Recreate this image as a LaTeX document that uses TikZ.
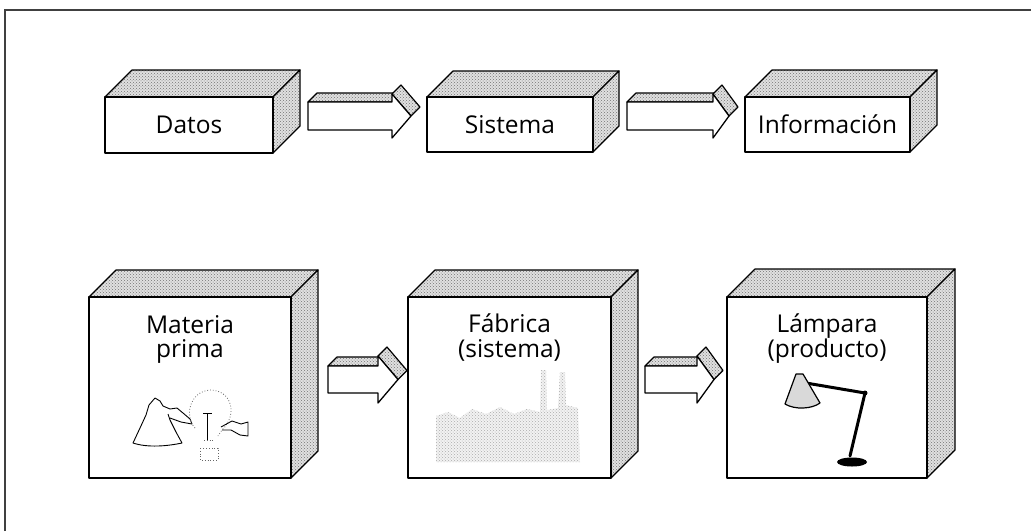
\documentclass[tikz,border=0pt]{standalone}
\usepackage{fontspec}
\newfontfamily\lblfont{Open Sans}
\usetikzlibrary{patterns}
\tikzset{
  stipple/.style={draw=black, line width=1.2pt, line join=round,
    preaction={fill=gray!24}, pattern=crosshatch dots, pattern color=black!55},
  frontface/.style={draw=black, line width=1.3pt, line join=round, fill=white},
  lbl/.style={font=\lblfont\fontsize{24.5}{25}\selectfont, inner sep=0pt, anchor=base},
  frameline/.style={draw=black!75, line width=1.6pt},
  sketch/.style={draw=black, line width=0.9pt, line join=round},
  dotsketch/.style={draw=black!60, line width=0.8pt, dotted},
  speckle/.style={preaction={fill=gray!10}, pattern=crosshatch dots, pattern color=gray!65},
}
% front-left-top x1,y1 ; front-right-bottom x2,y2 ; depth d
\newcommand\cubebox[5]{%
  \draw[stipple] (#1,#2) -- (#3,#2) -- ({#3+#5},{#2-#5}) -- ({#1+#5},{#2-#5}) -- cycle;
  \draw[stipple] (#3,#2) -- ({#3+#5},{#2-#5}) -- ({#3+#5},{#4-#5}) -- (#3,#4) -- cycle;
  \draw[frontface] (#1,#2) rectangle (#3,#4);
}
% x0, xhead, ytop, ybottom, barb, xtip, depth
\newcommand\blockarrow[7]{%
  \pgfmathsetmacro\ymid{(#3+#4)/2}%
  \draw[stipple] (#1,#3) -- (#2,#3) -- ({#2+#7},{#3-#7}) -- ({#1+#7},{#3-#7}) -- cycle;
  \draw[stipple] (#2,{#3-#5}) -- (#6,\ymid) -- ({#6+#7},{\ymid-#7}) -- ({#2+#7},{#3-#5-#7}) -- cycle;
  \draw[frontface] (#1,#4) -- (#1,#3) -- (#2,#3) -- (#2,{#3-#5}) -- (#6,\ymid) -- (#2,{#4+#5}) -- (#2,#4) -- cycle;
}
\begin{document}
\begin{tikzpicture}[x=1pt,y=-1pt]
\useasboundingbox (0,0) rectangle (1031,531);
\fill[white] (0,0) rectangle (1031,531);
% frame
\coordinate (fl) at (5,531);
\coordinate (ftl) at (5,10);
\coordinate (ftr) at (1031,10);
\draw[frameline] (fl) -- (ftl) -- (ftr);

% top row
\cubebox{105}{97}{273}{153}{27}
\node[lbl] (datos) at (189,133) {Datos};
\blockarrow{308}{392}{102}{130}{8}{411}{9}
\cubebox{427}{97}{593}{152}{26}
\node[lbl] (sistema) at (510,133) {Sistema};
\blockarrow{627}{713}{102}{130}{8}{729}{9}
\cubebox{745}{97}{910}{152}{27}
\node[lbl] (info) at (827.5,133) {Información};

% bottom row
\cubebox{89}{297}{291}{478}{27}
\node[lbl] (mat1) at (190,333) {Materia};
\node[lbl] (mat2) at (190,357) {prima};
\blockarrow{328}{378}{366}{393}{10}{398}{9}
\cubebox{408}{297}{611}{478}{27}
\node[lbl] (fab1) at (509.5,332) {Fábrica};
\node[lbl] (fab2) at (509.5,357) {(sistema)};
\blockarrow{645}{697}{366}{393}{10}{714}{9}
\cubebox{727}{297}{927}{478}{28}
\node[lbl] (lamp1) at (827,332) {Lámpara};
\node[lbl] (lamp2) at (827,357) {(producto)};

% raw material sketch
\draw[sketch] (155,398) -- (149,405) -- (146,415) -- (140,428) -- (133,443)
  .. controls (148,448) and (168,446) .. (182,443) -- (176,432) -- (170,420) -- (168,414);
\draw[sketch] (155,398) -- (160,401) -- (163,406) -- (170,409) -- (177,408) -- (183,413)
  -- (190,419) -- (192,424) -- (181,422) -- (170,418);
\draw[dotsketch] (195,428) .. controls (185,418) and (188,392) .. (210,390)
  .. controls (232,390) and (238,415) .. (222,430) -- (218,436);
\draw[dotsketch] (200,448) rectangle (218,460);
\draw[sketch, line width=1pt] (203,413) -- (212,413) (207,413) -- (207,440);
\draw[dotsketch] (204,440) -- (214,440);
\draw[sketch] (221,427) -- (232,421) -- (241,424) -- (248,422) -- (248,436)
  -- (240,435) -- (231,430) -- (222,430);

% factory sketch
\fill[speckle] (436,462) -- (436,416) -- (448,412) -- (460,418) -- (472,409) -- (486,414)
  -- (500,407) -- (514,414) -- (527,409) -- (540,412) -- (541,370) -- (546,370) -- (547,410)
  -- (558,408) -- (560,372) -- (565,372) -- (566,405) -- (578,408) -- (580,462) -- cycle;

% desk lamp
\draw[black, line width=3pt, line cap=round, line join=round] (806,383) -- (865,393) -- (850,456);
\fill[black] (865,393) circle (2.5pt);
\fill[black] (852,462) ellipse (15pt and 4.5pt);
\draw[black, line width=1.2pt, fill=gray!30, line join=round] (796,374) -- (785,404)
  .. controls (795,410) and (812,409) .. (820,403) -- (803,374) -- cycle;
\end{tikzpicture}
\end{document}
